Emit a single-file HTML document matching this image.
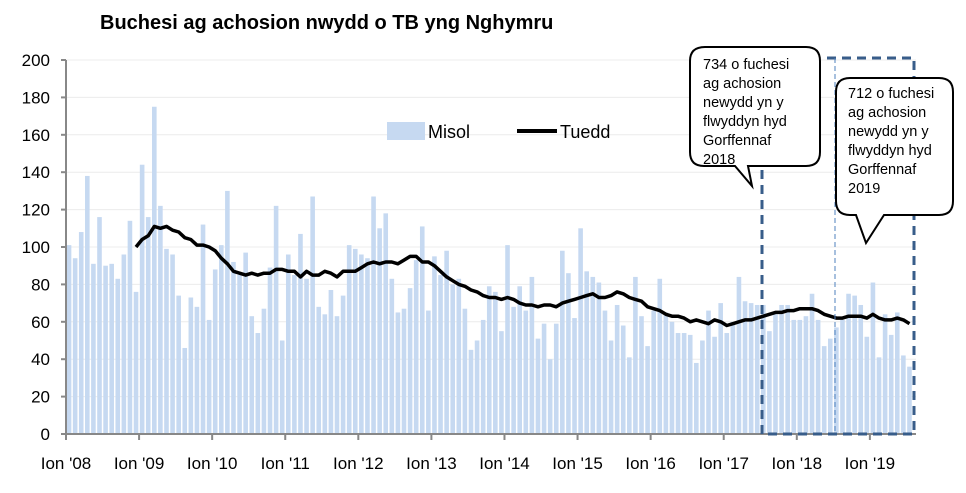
<!DOCTYPE html>
<html><head><meta charset="utf-8"><style>
body{margin:0;background:#fff;width:966px;height:488px;overflow:hidden;font-family:"Liberation Sans",Arial,sans-serif}
svg text{font-family:"Liberation Sans",Arial,sans-serif}
</style></head><body>
<svg id="chart" width="966" height="488" viewBox="0 0 966 488" xmlns="http://www.w3.org/2000/svg">
<text x="100" y="29" font-size="20" font-weight="bold" fill="#000">Buchesi ag achosion nwydd o TB yng Nghymru</text>
<g id="grid"></g>
<g id="bars"></g>
<path id="trend" fill="none" stroke="#000" stroke-width="3.5" stroke-linejoin="round"></path>
<g id="axes"></g>
<g>
<rect x="387" y="122" width="38" height="18" fill="#c6d9f1"/>
<text x="428" y="138" font-size="18">Misol</text>
<line x1="517" y1="131" x2="557" y2="131" stroke="#000" stroke-width="4"/>
<text x="560" y="138" font-size="18">Tuedd</text>
</g>
<g fill="none" stroke="#385d8a">
<path d="M762 170 L762 434 L914 434 L914 58 L823 58" stroke-width="3" stroke-dasharray="9,6"/>
<line x1="835" y1="58" x2="835" y2="434" stroke="#4f81bd" stroke-width="1" stroke-dasharray="5,3"/>
</g>
<g>
<path d="M705 47 L806 47 Q820 47 820 61 L820 152 Q820 166 806 166 L748 166 L752 186 L735 166 L704 166 Q690 166 690 152 L690 61 Q690 47 705 47 Z" fill="#fff" stroke="#000" stroke-width="2"/>
<text font-size="14.5" fill="#000"><tspan x="703" y="69">734 o fuchesi</tspan><tspan x="703" y="88">ag achosion</tspan><tspan x="703" y="107">newydd yn y</tspan><tspan x="703" y="126">flwyddyn hyd</tspan><tspan x="703" y="145">Gorffennaf</tspan><tspan x="703" y="164">2018</tspan></text>
</g>
<g>
<path d="M850 78 L939 78 Q953 78 953 92 L953 201 Q953 215 939 215 L884 215 L866 243 L856 215 L850 215 Q836 215 836 201 L836 92 Q836 78 850 78 Z" fill="#fff" stroke="#000" stroke-width="2"/>
<text font-size="14.5" fill="#000"><tspan x="848" y="98">712 o fuchesi</tspan><tspan x="848" y="117">ag achosion</tspan><tspan x="848" y="136">newydd yn y</tspan><tspan x="848" y="155">flwyddyn hyd</tspan><tspan x="848" y="174">Gorffennaf</tspan><tspan x="848" y="193">2019</tspan></text>
</g>
</svg>
<script>
const monthly = [
101,94,108,138,91,116,90,91,83,96,114,76,
144,116,175,122,99,96,74,46,73,68,112,61,
88,101,130,92,85,97,63,54,67,89,122,50,
96,85,107,83,127,68,64,77,63,74,101,99,
96,94,127,110,118,83,65,67,78,93,111,66,
95,85,98,80,83,67,45,50,61,79,76,55,
101,68,79,66,84,51,59,40,59,98,86,62,
110,87,84,81,66,50,69,58,41,84,63,47,
66,83,65,60,54,54,53,38,50,66,52,70,
54,60,84,71,70,69,69,55,64,69,69,61,
61,63,75,61,47,51,57,61,75,74,69,52,
81,41,64,53,65,42,36];
const trendStart = 11;
const trend = [100,104,106,111,110,111,109,108,105,104,101,101,100,98,94,91,87,86,85,86,85,86,86,88,88,87,87,84,87,85,85,87,86,84,87,87,87,89,91,92,91,92,92,91,93,95,95,92,92,90,87,84,82,80,79,77,76,74,73,73,72,73,72,70,69,69,68,69,69,68,70,71,72,73,74,75,73,73,74,76,75,73,72,71,68,67,66,64,63,63,62,60,61,60,59,61,60,58,59,60,61,61,62,63,64,65,65,66,66,67,67,67,66,64,63,62,62,63,63,63,62,64,62,61,61,62,61,59];
const yTicks = [0,20,40,60,80,100,120,140,160,180,200];
const xLabels = ["Ion '08","Ion '09","Ion '10","Ion '11","Ion '12","Ion '13","Ion '14","Ion '15","Ion '16","Ion '17","Ion '18","Ion '19"];
const NS="http://www.w3.org/2000/svg";
const X0=66,X1=916,Y0=434,Y1=60,MW=6.09;
function xs(i){return X0+MW*(i+0.5);}
function ys(v){return Y0-(v/200)*(Y0-Y1);}
function mk(t,a){const e=document.createElementNS(NS,t);for(const k in a)e.setAttribute(k,a[k]);return e;}
const grid=document.getElementById('grid'),axes=document.getElementById('axes'),bars=document.getElementById('bars');
yTicks.forEach(v=>{
  if(v>0){const g=mk('line',{x1:X0,x2:X1,y1:ys(v),y2:ys(v),stroke:'#ececec','stroke-width':1});
  
  grid.appendChild(g);}
  const t=mk('line',{x1:X0-5,x2:X0,y1:ys(v),y2:ys(v),stroke:'#888','stroke-width':2});
  
  axes.appendChild(t);
  const l=mk('text',{x:X0-16,y:ys(v)+6,'text-anchor':'end','font-size':17,fill:'#000'});
  l.textContent=v;
  
  axes.appendChild(l);
});
monthly.forEach((v,i)=>{
  const r=mk('rect',{x:xs(i)-2.3,y:ys(v),width:4.6,height:Y0-ys(v),fill:'#c6d9f1'});
  
  bars.appendChild(r);
});
document.getElementById('trend').setAttribute('d',trend.map((v,k)=>(k?'L':'M')+xs(k+trendStart).toFixed(1)+' '+ys(v).toFixed(1)).join(' '));
const ya=mk('line',{x1:X0,x2:X0,y1:Y1,y2:Y0,stroke:'#888','stroke-width':2});

axes.appendChild(ya);
const xa=mk('line',{x1:X0,x2:X1,y1:Y0,y2:Y0,stroke:'#888','stroke-width':2});

axes.appendChild(xa);
xLabels.forEach((s,k)=>{
  const x=X0+MW*12*k;
  const t=mk('line',{x1:x,x2:x,y1:Y0,y2:Y0+6,stroke:'#888','stroke-width':2});
  
  axes.appendChild(t);
  const l=mk('text',{x:x,y:469,'text-anchor':'middle','font-size':17,fill:'#000'});
  l.textContent=s;
  
  axes.appendChild(l);
});
</script>
</body></html>
